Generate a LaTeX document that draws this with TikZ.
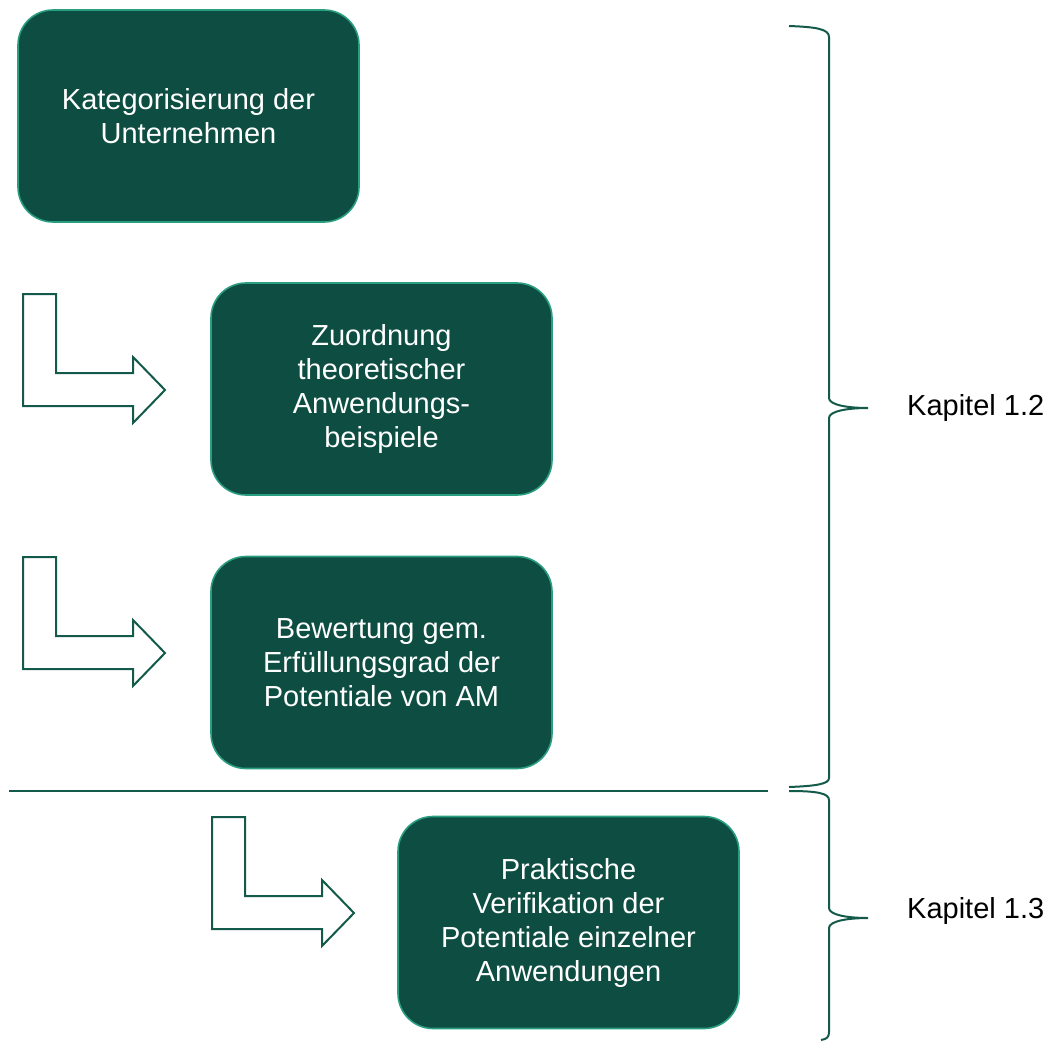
\documentclass[tikz,border=0pt]{standalone}
\usepackage{fontspec}
\setmainfont{Liberation Sans}
\usepackage{xcolor}
\usepackage{tikz}
\usetikzlibrary{calc,positioning}
\definecolor{boxgreen}{HTML}{0E4E42}
\definecolor{rimteal}{HTML}{2A9E80}
\definecolor{linegreen}{HTML}{135A4A}
\tikzset{
  stepbox/.style   = {draw=rimteal, line width=1.6pt, fill=boxgreen, text=white,
                      rounded corners=35pt, minimum width=341pt, minimum height=212pt,
                      align=center, inner sep=0pt,
                      font=\fontsize{29}{34}\selectfont},
  turn arrow/.style = {draw=linegreen, line width=2pt, fill=white, line join=miter},
  brace line/.style = {draw=linegreen, line width=2pt},
  chapter label/.style = {anchor=west, inner sep=0pt, text=black,
                          font=\fontsize{29}{32}\selectfont},
}

\begin{document}
\begin{tikzpicture}[x=1pt, y=-1pt]
      \useasboundingbox (0,0) rectangle (1051,1041);
      % process steps
      \node[stepbox] (kat)    at (188.5,116)  {Kategorisierung der\\Unternehmen};
      \node[stepbox] (zuord)  at (381.5,389)  {Zuordnung\\theoretischer\\Anwendungs-\\beispiele};
      \node[stepbox] (bewert) at (381.5,662.5){Bewertung gem.\\Erfüllungsgrad der\\Potentiale von AM};
      \node[stepbox] (verif)  at (568.5,922.5){Praktische\\Verifikation der\\Potentiale einzelner\\Anwendungen};
      % turn arrows
      \foreach \lx/\ty in {23/294, 23/557, 212/817}
        \draw[turn arrow] (\lx,\ty) -- ++(33,0) -- ++(0,79) -- ++(77,0) -- ++(0,-16)
          -- ++(32,33) -- ++(-32,33) -- ++(0,-17) -- ++(-110,0) -- cycle;
      % separator
      \draw[brace line, line width=2.5pt] (9,791) -- (768,791);
      % braces
      \draw[brace line] (789,26) .. controls (816,27) and (829,29) .. (829,37)
        -- (829,398) .. controls (829,405) and (848,408) .. (868,408)
        .. controls (848,408) and (829,411) .. (829,418)
        -- (829,778) .. controls (829,784) and (816,786) .. (789,787);
      \draw[brace line] (789,791) .. controls (816,791) and (829,793) .. (829,800)
        -- (829,908) .. controls (829,915) and (848,918) .. (868,918)
        .. controls (848,918) and (829,921) .. (829,928)
        -- (829,1032) .. controls (829,1037) and (827,1039) .. (821,1040);
      % chapter labels
      \node[chapter label] (kap12) at (907,408) {Kapitel 1.2};
      \node[chapter label] (kap13) at (907,911) {Kapitel 1.3};
    \end{tikzpicture}
\end{document}
